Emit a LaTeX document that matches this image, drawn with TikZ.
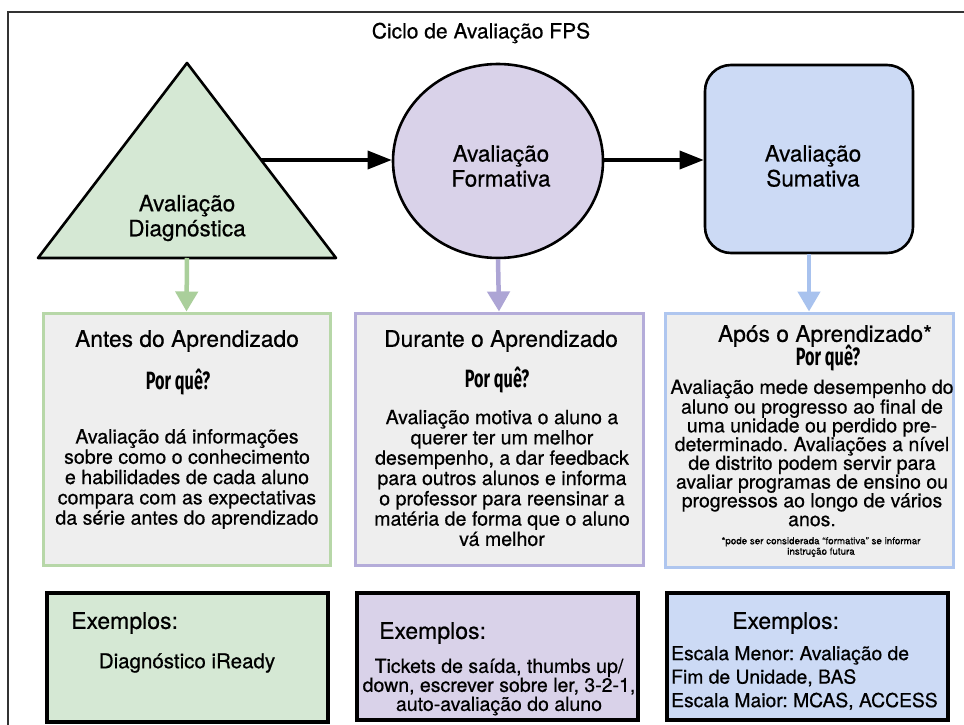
\documentclass[tikz,border=0pt]{standalone}
\usepackage{fontspec}
\setmainfont{TeX Gyre Heros}[FakeBold=0.6]
\newfontfamily\porfont{Fira Sans}[FakeStretch=0.65]
\usetikzlibrary{arrows.meta,shapes.geometric}
\definecolor{gfill}{HTML}{D5E8D4}
\definecolor{pfill}{HTML}{D9D2E9}
\definecolor{bfill}{HTML}{CCDAF5}
\definecolor{garr}{HTML}{AACF9B}
\definecolor{parr}{HTML}{ADA5D5}
\definecolor{barr}{HTML}{A8C2EE}
\definecolor{boxgray}{HTML}{EEEEEE}
\definecolor{gline}{HTML}{B7D7A8}
\definecolor{pline}{HTML}{B4ACD9}
\definecolor{bline}{HTML}{AFC6EF}
\definecolor{framecol}{HTML}{333333}
\tikzset{
  frameline/.style={draw=framecol, line width=2pt},
  shapeline/.style={draw=black, line width=2.6pt, line join=round},
  shapetxt/.style={align=center, inner sep=0pt, font=\fontsize{22.5}{25}\selectfont},
  titletxt/.style={inner sep=0pt, font=\fontsize{21}{24}\selectfont},
  blackarrow/.style={line width=3.5pt, -{Triangle[length=24pt,width=18pt]}},
  colarrow/.style={line width=4.5pt, -{Triangle[length=20pt,width=22pt]}},
  midbox/.style={draw, line width=3pt, fill=boxgray, inner sep=0pt},
  exbox/.style={draw=black, line width=3.5pt, inner sep=0pt, minimum width=281pt},
  headtxt/.style={inner sep=0pt, font=\fontsize{22.8}{25}\selectfont},
  portxt/.style={inner sep=0pt, font=\porfont\bfseries\fontsize{25}{26}\selectfont},
  bodytxt/.style={align=center, inner sep=0pt, font=\fontsize{19.6}{20.3}\selectfont},
  bodytight/.style={align=center, inner sep=0pt, font=\fontsize{19.5}{18.75}\selectfont},
  notetxt/.style={align=center, inner sep=0pt, font=\fontsize{9.8}{10.5}\selectfont},
  extitle/.style={anchor=west, inner sep=0pt, font=\fontsize{23}{25}\selectfont},
  extxt/.style={inner sep=0pt, font=\fontsize{19.5}{19}\selectfont},
}
\begin{document}
\frenchspacing
\begin{tikzpicture}[x=1pt,y=-1pt]
\useasboundingbox (0,0) rectangle (964,725);
\clip (0,0) rectangle (964,725);
\fill[white] (0,0) rectangle (964,725);
\draw[frameline] (8,760) -- (8,12) -- (990,12);

\node[titletxt] (title) at (481,33) {Ciclo de Avaliação FPS};

% triangle
\coordinate (triA) at (187,63);
\coordinate (triL) at (38,258);
\coordinate (triR) at (336,258);
\coordinate (triE) at (261,160);
\coordinate (triB) at (187,258);
\draw[shapeline, fill=gfill] (triA) -- (triL) -- (triR) -- cycle;
\node[shapetxt] (tritxt) at (187,218) {Avaliação\\Diagnóstica};

% circle
\node[ellipse, shapeline, fill=pfill, minimum width=210pt, minimum height=194pt, inner sep=0pt] (circ) at (498,161) {};
\node[shapetxt] (circtxt) at (501,166) {Avaliação\\Formativa};

% rounded square
\node[shapeline, rounded corners=26pt, fill=bfill, minimum width=208pt, minimum height=188pt, inner sep=0pt] (sq) at (809,159) {};
\node[shapetxt] (sqtxt) at (813,166) {Avaliação\\Sumativa};

% black arrows
\draw[blackarrow] (triE) -- (circ.west |- triE);
\draw[blackarrow] (circ.east |- triE) -- (sq.west |- triE);

% middle boxes
\node[midbox, draw=gline, minimum width=287pt, minimum height=252pt] (gbox) at (186.5,439) {};
\node[midbox, draw=pline, minimum width=288pt, minimum height=252pt] (pbox) at (499,439) {};
\node[midbox, draw=bline, minimum width=288pt, minimum height=254pt] (bbox) at (809,440) {};

% coloured arrows
\draw[colarrow, draw=garr, fill=garr] (triB) -- (gbox.north);
\draw[colarrow, draw=parr, fill=parr] (circ.south) -- (pbox.north);
\draw[colarrow, draw=barr, fill=barr] (sq.south) -- (bbox.north);

% green middle text
\node[headtxt] (ghead) at (187,341) {Antes do Aprendizado};
\node[portxt] (gpor) at (178,382) {Por quê?};
\node[bodytxt] (gbody) at (187,479) {Avaliação dá informações\\sobre como o conhecimento\\e habilidades de cada aluno\\compara com as expectativas\\da série antes do aprendizado};

% purple middle text
\node[headtxt] (phead) at (501,341) {Durante o Aprendizado};
\node[portxt] (ppor) at (497,380) {Por quê?};
\node[bodytxt] (pbody) at (502,478) {Avaliação motiva o aluno a\\querer ter um melhor\\desempenho, a dar feedback\\para outros alunos e informa\\o professor para reensinar a\\matéria de forma que o aluno\\vá melhor};

% blue middle text
\node[headtxt] (bhead) at (825,336) {Após o Aprendizado*};
\node[portxt] (bpor) at (828,358) {Por quê?};
\node[bodytight] (bbody) at (812,453) {Avaliação mede desempenho do\\aluno ou progresso ao final de\\uma unidade ou perdido pre-\\determinado. Avaliações a nível\\de distrito podem servir para\\avaliar programas de ensino ou\\progressos ao longo de vários\\anos.};
\node[notetxt] (bnote) at (821,547) {*pode ser considerada “formativa” se informar\\instrução futura};

% example boxes
\node[exbox, fill=gfill, minimum height=129pt] (gex) at (187.5,657.5) {};
\node[exbox, fill=pfill, minimum height=127pt] (pex) at (497.5,656.5) {};
\node[exbox, fill=bfill, minimum height=127pt] (bex) at (807.5,656.5) {};

\node[extitle] (gext) at (71,623) {Exemplos:};
\node[extxt, font=\fontsize{20.5}{22}\selectfont] (gexb) at (187,663) {Diagnóstico iReady};

\node[extitle] (pext) at (379,633) {Exemplos:};
\node[extxt, align=center] (pexb) at (499,687) {Tickets de saída, thumbs up/\\down, escrever sobre ler, 3-2-1,\\auto-avaliação do aluno};

\node[extitle] (bext) at (732,623) {Exemplos:};
\node[extxt, align=left, anchor=west, font=\fontsize{19.3}{23.5}\selectfont] (bexb) at (671,678) {Escala Menor: Avaliação de\\Fim de Unidade, BAS\\Escala Maior: MCAS, ACCESS};
\end{tikzpicture}
\end{document}
